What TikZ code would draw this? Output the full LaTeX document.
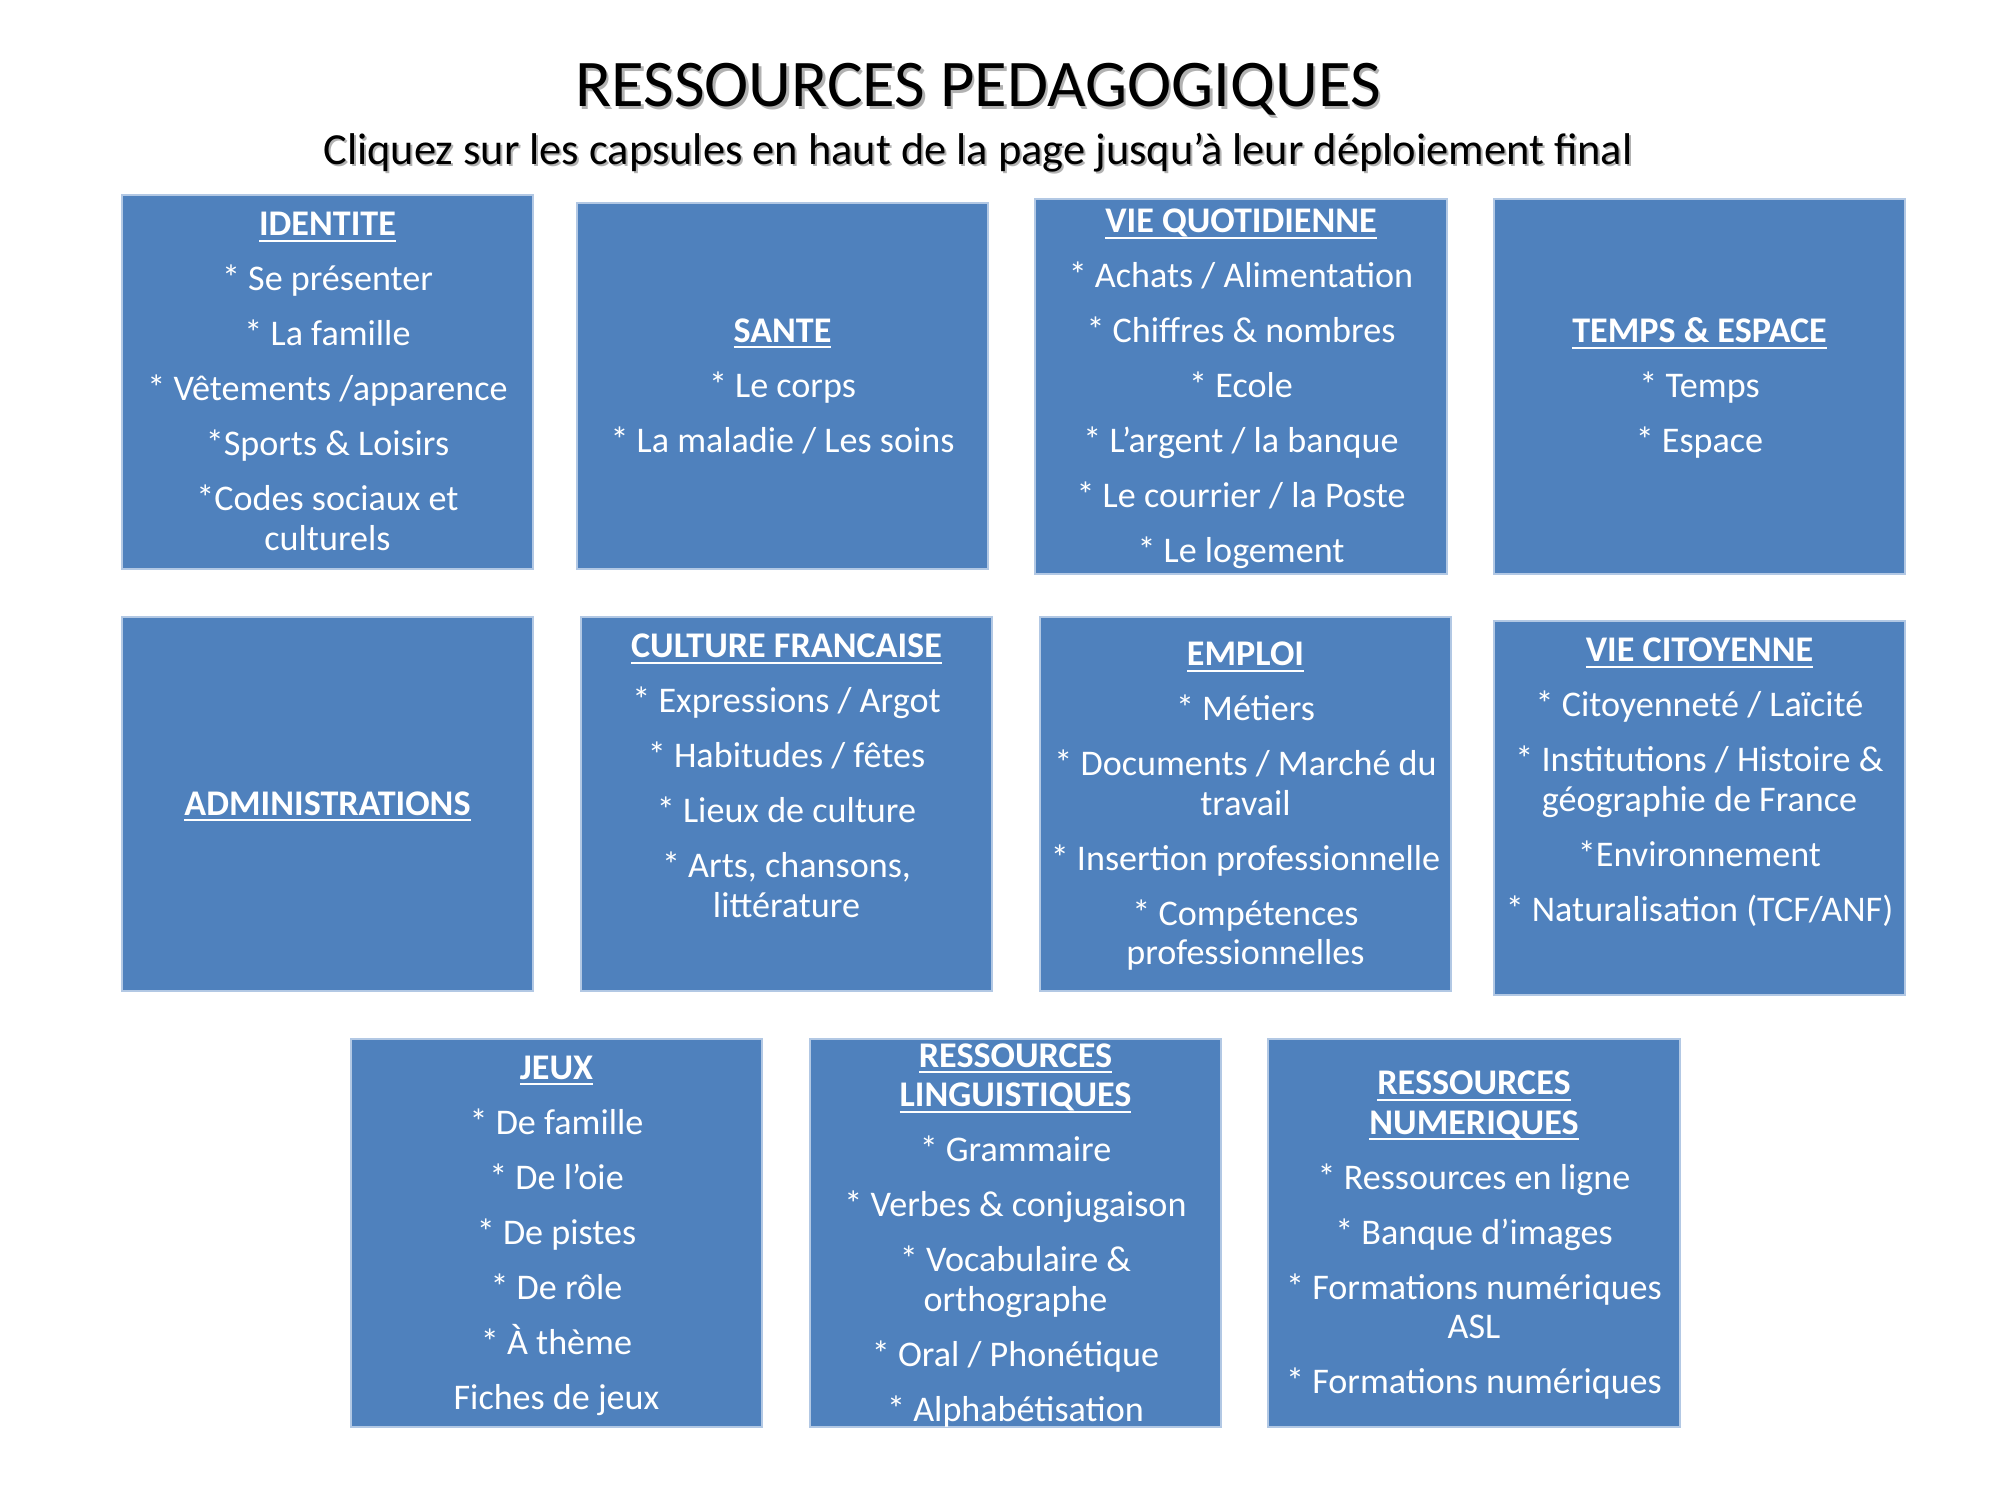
\documentclass[tikz,border=0pt]{standalone}
\usepackage{fontspec}
\setmainfont{Carlito}

\definecolor{capfill}{RGB}{79,129,189}
\definecolor{capedge}{RGB}{178,200,228}

% underlined bold heading with a rule at a fixed distance under the baseline
\newcommand\hd[1]{\setbox0\hbox{\bfseries #1}\rlap{\rule[-2.2pt]{\wd0}{0.65pt}}\box0}
% break between two entries of a capsule
\newcommand\pbreak{\\[5.6pt]}
% a slightly taller strut for the first line of a capsule
\newcommand\topstrut{\rule[-4.26pt]{0pt}{16.5pt}}

\tikzset{
  capsule/.style 2 args={draw=capedge, line width=0.5pt, fill=capfill,
    inner sep=0pt, outer sep=0pt,
    minimum width=#1*0.36pt, minimum height=#2*0.36pt},
  captext/.style={text=white, inner sep=0pt, align=center,
    font=\fontsize{13}{14.2}\selectfont},
  titletext/.style={font=\fontsize{24}{28}\selectfont, anchor=base, inner sep=0pt},
  subtext/.style={font=\fontsize{16}{19}\selectfont, anchor=base, inner sep=0pt},
  shadowtext/.style={text=black!40, opacity=0.75},
}

% a capsule: name, centre x, centre y, width, height, contents
\newcommand\capsulenode[6]{%
  \node[capsule={#4}{#5}] (#1) at (#2,#3) {};
  \node[captext] (#1-text) at (#1.center) {#6};}

\begin{document}
\begin{tikzpicture}[x=0.36pt,y=-0.36pt]
\useasboundingbox (0,0) rectangle (2000,1500);
\fill[white] (0,0) rectangle (2000,1500);

% heading
\node[titletext, shadowtext] (title-sh) at (980.5,109.5) {RESSOURCES PEDAGOGIQUES};
\node[titletext] (title) at (978,107) {RESSOURCES PEDAGOGIQUES};
\node[subtext, shadowtext] (sub-sh) at (980,167) {Cliquez sur les capsules en haut de la page jusqu’à leur déploiement final};
\node[subtext] (sub) at (978,165) {Cliquez sur les capsules en haut de la page jusqu’à leur déploiement final};

% first row
\capsulenode{identite}{327.5}{382}{411}{374}{%
  \topstrut\hd{IDENTITE}\pbreak
  \strut* Se présenter\pbreak
  \strut* La famille\pbreak
  \strut* Vêtements /apparence\pbreak
  \strut*Sports \& Loisirs\pbreak
  \strut*Codes sociaux et\\\strut culturels}

\capsulenode{sante}{782.5}{386}{411}{366}{%
  \topstrut\hd{SANTE}\pbreak
  \strut* Le corps\pbreak
  \strut* La maladie / Les soins}

\capsulenode{vieq}{1241}{386.5}{412}{375}{%
  \topstrut\hd{VIE QUOTIDIENNE}\pbreak
  \strut* Achats / Alimentation\pbreak
  \strut* Chiffres \& nombres\pbreak
  \strut* Ecole\pbreak
  \strut* L’argent / la banque\pbreak
  \strut* Le courrier / la Poste\pbreak
  \strut* Le logement}

\capsulenode{temps}{1699.5}{386.5}{411}{375}{%
  \topstrut\hd{TEMPS \& ESPACE}\pbreak
  \strut* Temps\pbreak
  \strut* Espace}

% second row
\capsulenode{admin}{327.5}{804}{411}{374}{\topstrut\hd{ADMINISTRATIONS}}

\capsulenode{culture}{786.5}{804}{411}{374}{%
  \topstrut\hd{CULTURE FRANCAISE}\pbreak
  \strut* Expressions / Argot\pbreak
  \strut* Habitudes / fêtes\pbreak
  \strut* Lieux de culture\pbreak
  \strut* Arts, chansons,\\\strut littérature\pbreak
  \strut}

\capsulenode{emploi}{1245.5}{804}{411}{374}{%
  \topstrut\hd{EMPLOI}\pbreak
  \strut* Métiers\pbreak
  \strut* Documents / Marché du\\\strut travail\pbreak
  \strut* Insertion professionnelle\pbreak
  \strut* Compétences\\\strut professionnelles}

\capsulenode{viec}{1699.5}{808}{411}{374}{%
  \topstrut\hd{VIE CITOYENNE}\pbreak
  \strut* Citoyenneté / Laïcité\pbreak
  \strut* Institutions / Histoire \&\\\strut géographie de France\pbreak
  \strut*Environnement\pbreak
  \strut* Naturalisation (TCF/ANF)\pbreak
  \strut}

% third row
\capsulenode{jeux}{556.5}{1233}{411}{388}{%
  \topstrut\hd{JEUX}\pbreak
  \strut* De famille\pbreak
  \strut* De l’oie\pbreak
  \strut* De pistes\pbreak
  \strut* De rôle\pbreak
  \strut* \smash{À} thème\pbreak
  \strut Fiches de jeux}

\capsulenode{ling}{1015.5}{1233}{411}{388}{%
  \topstrut\hd{RESSOURCES}\\\strut\hd{LINGUISTIQUES}\pbreak
  \strut* Grammaire\pbreak
  \strut* Verbes \& conjugaison\pbreak
  \strut* Vocabulaire \&\\\strut orthographe\pbreak
  \strut* Oral / Phonétique\pbreak
  \strut* Alphabétisation}

\capsulenode{num}{1474}{1233}{412}{388}{%
  \topstrut\hd{RESSOURCES}\\\strut\hd{NUMERIQUES}\pbreak
  \strut* Ressources en ligne\pbreak
  \strut* Banque d’images\pbreak
  \strut* Formations numériques\\\strut ASL\pbreak
  \strut* Formations numériques}
\end{tikzpicture}
\end{document}
